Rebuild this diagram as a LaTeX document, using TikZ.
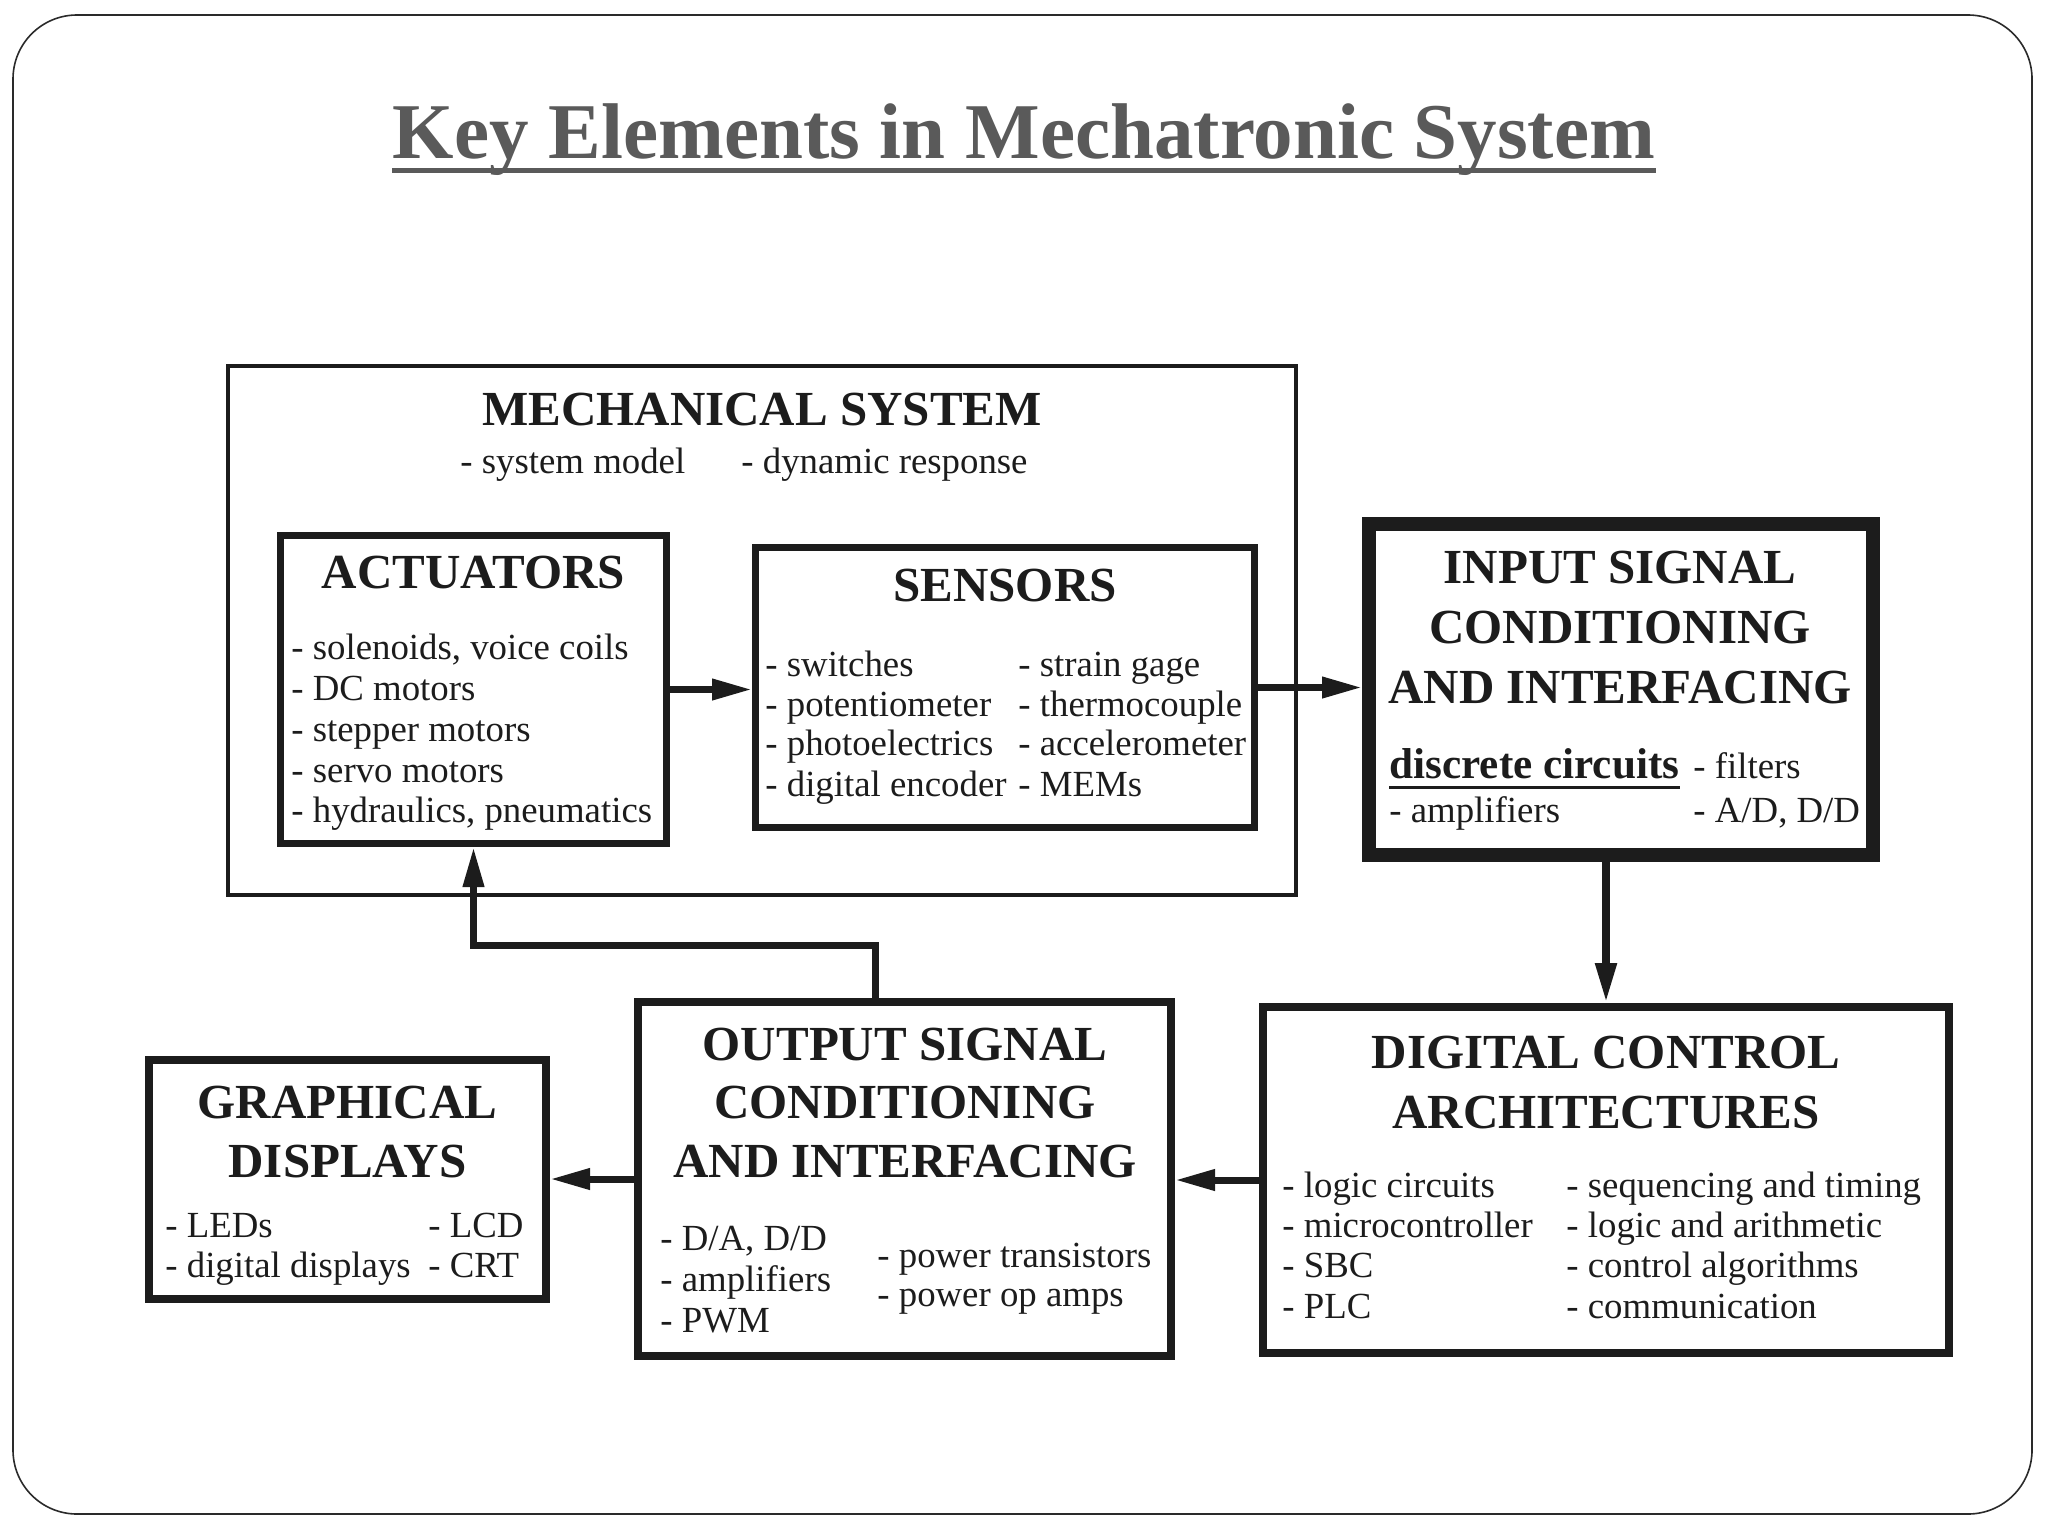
\documentclass[tikz,border=0pt]{standalone}
\usepackage{fontspec}
\setmainfont{Liberation Serif}
\usetikzlibrary{arrows.meta,calc}
\definecolor{ink}{HTML}{1C1C1C}
\definecolor{titlegray}{HTML}{5A5A5A}
\definecolor{framegray}{HTML}{2A2A2A}
\tikzset{
  box/.style={draw=ink, inner sep=0pt, fill=none},
  ttl/.style={font=\bfseries\fontsize{24.5}{30}\selectfont, inner sep=0pt, anchor=base, text=ink},
  itm/.style={font=\fontsize{18.4}{20}\selectfont, inner sep=0pt, anchor=base west, text=ink},
  arr/.style={draw=ink, line width=3.5pt, -{Triangle[length=20pt,width=10pt]}},
}
\begin{document}
\begin{tikzpicture}[x=0.5pt,y=-0.5pt]
\useasboundingbox (0,0) rectangle (2048,1536);
% slide frame
\draw[framegray, line width=0.8pt, rounded corners=32pt] (13,15) rectangle (2032,1514);
% main title
\node[font=\bfseries\fontsize{39.5}{44}\selectfont, text=titlegray, inner sep=0pt, anchor=base] (maintitle) at (1024,158) {Key Elements in Mechatronic System};
\draw[titlegray, line width=2.5pt] ([yshift=-6pt]maintitle.base west) -- ([yshift=-6pt]maintitle.base east);

% boxes
\node[box, line width=1.75pt, minimum width=534pt, minimum height=264.5pt] (mech) at (762,630.5) {};
\node[box, line width=3.5pt, minimum width=193pt, minimum height=154pt] (act) at (473.5,689.5) {};
\node[box, line width=3.5pt, minimum width=249.5pt, minimum height=140pt] (sens) at (1005,687.5) {};
\node[box, line width=7pt, minimum width=252pt, minimum height=165.5pt] (inp) at (1621,689.5) {};
\node[box, line width=4pt, minimum width=343pt, minimum height=173pt] (dc) at (1606,1180) {};
\node[box, line width=4pt, minimum width=266.5pt, minimum height=177pt] (out) at (904.5,1179) {};
\node[box, line width=4pt, minimum width=198.5pt, minimum height=119.5pt] (gr) at (347.5,1179.5) {};

% mechanical system texts
\node[ttl] (mechT) at (762,425) {MECHANICAL SYSTEM};
\node[itm] (mech1) at (460,473) {- system model};
\node[itm] (mech2) at (741,473) {- dynamic response};

% actuators
\node[ttl] (actT) at (473.5,588) {ACTUATORS};
\node[itm] (act1) at (291,659) {- solenoids, voice coils};
\node[itm] (act2) at (291,700) {- DC motors};
\node[itm] (act3) at (291,741) {- stepper motors};
\node[itm] (act4) at (291,782) {- servo motors};
\node[itm] (act5) at (291,822) {- hydraulics, pneumatics};

% sensors
\node[ttl] (sensT) at (1005,601) {SENSORS};
\node[itm] (sen1) at (765,676) {- switches};
\node[itm] (sen2) at (765,716) {- potentiometer};
\node[itm] (sen3) at (765,755) {- photoelectrics};
\node[itm] (sen4) at (765,796) {- digital encoder};
\node[itm] (sen5) at (1018,676) {- strain gage};
\node[itm] (sen6) at (1018,716) {- thermocouple};
\node[itm] (sen7) at (1018,755) {- accelerometer};
\node[itm] (sen8) at (1018,796) {- MEMs};

% input signal conditioning
\node[ttl] (inpT1) at (1620,583) {INPUT SIGNAL};
\node[ttl] (inpT2) at (1620,643) {CONDITIONING};
\node[ttl] (inpT3) at (1620,703) {AND INTERFACING};
\node[itm, font=\bfseries\fontsize{21.6}{24}\selectfont] (inpD) at (1389,778) {discrete circuits};
\draw[ink, line width=1.5pt] ([yshift=-4.5pt]inpD.base west) -- ([yshift=-4.5pt]inpD.base east);
\node[itm] (inp1) at (1693,778) {- filters};
\node[itm] (inp2) at (1389,822) {- amplifiers};
\node[itm] (inp3) at (1693,822) {- A/D, D/D};

% digital control
\node[ttl] (dcT1) at (1606,1068) {DIGITAL CONTROL};
\node[ttl] (dcT2) at (1606,1128) {ARCHITECTURES};
\node[itm] (dc1) at (1282,1197) {- logic circuits};
\node[itm] (dc2) at (1282,1237) {- microcontroller};
\node[itm] (dc3) at (1282,1277) {- SBC};
\node[itm] (dc4) at (1282,1318) {- PLC};
\node[itm] (dc5) at (1566,1197) {- sequencing and timing};
\node[itm] (dc6) at (1566,1237) {- logic and arithmetic};
\node[itm] (dc7) at (1566,1277) {- control algorithms};
\node[itm] (dc8) at (1566,1318) {- communication};

% output signal conditioning
\node[ttl] (outT1) at (905,1060) {OUTPUT SIGNAL};
\node[ttl] (outT2) at (905,1118) {CONDITIONING};
\node[ttl] (outT3) at (905,1177) {AND INTERFACING};
\node[itm] (out1) at (660,1250) {- D/A, D/D};
\node[itm] (out2) at (660,1291) {- amplifiers};
\node[itm] (out3) at (660,1332) {- PWM};
\node[itm] (out4) at (877,1267) {- power transistors};
\node[itm] (out5) at (877,1306) {- power op amps};

% graphical displays
\node[ttl] (grT1) at (347.5,1118) {GRAPHICAL};
\node[ttl] (grT2) at (347.5,1177) {DISPLAYS};
\node[itm] (gr1) at (165,1237) {- LEDs};
\node[itm] (gr2) at (165,1277) {- digital displays};
\node[itm] (gr3) at (428,1237) {- LCD};
\node[itm] (gr4) at (428,1277) {- CRT};

% connectors
\draw[arr] (act.east) -- (act.east -| sens.west);
\draw[arr] (sens.east) -- (sens.east -| inp.west);
\draw[arr, line width=4pt] (dc.north |- inp.south) -- (dc.north);
\draw[arr] (dc.west) -- (dc.west -| out.east);
\draw[arr] (out.west) -- (out.west -| gr.east);
\coordinate (fbx) at (875,945);
\draw[arr, line join=miter] (fbx |- out.north) -- (fbx) -| (act.south);
\end{tikzpicture}
\end{document}
